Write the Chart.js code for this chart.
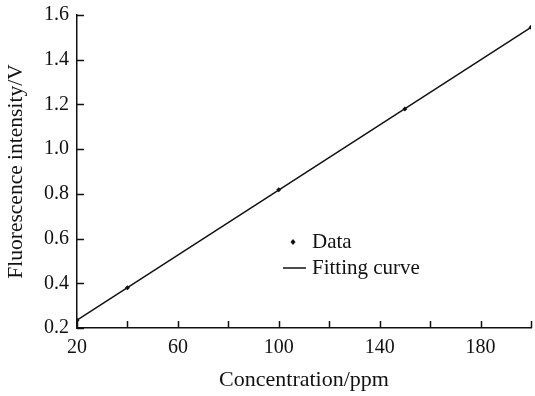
<!DOCTYPE html>
<html>
<head>
<meta charset="utf-8">
<script src="https://cdn.jsdelivr.net/npm/chart.js@4"></script>
<style>
  html, body { margin: 0; padding: 0; background: #fff; }
  #wrap { width: 535px; height: 396px; }
</style>
</head>
<body>
<div id="wrap"><canvas id="myChart" width="535" height="396"></canvas></div>
<script>
const concentration = [20, 40, 100, 150, 200];
const intensity = [0.235, 0.38, 0.818, 1.18, 1.545];
const fitX = [20, 200];
const fitY = [0.235, 1.545];
const xLabelled = [20, 60, 100, 140, 180];

const serif = "'Liberation Serif', 'Times New Roman', serif";

// ticks pointing into the plot, like the original figure
const inwardTicks = {
  id: "inwardTicks",
  afterDraw(chart) {
    const c = chart.ctx;
    const a = chart.chartArea;
    const xs = chart.scales.x;
    const ys = chart.scales.y;
    c.save();
    c.strokeStyle = "#111";
    c.lineWidth = 1.5;
    c.beginPath();
    xs.ticks.forEach(t => {
      const px = Math.round(xs.getPixelForValue(t.value)) + 0.5;
      c.moveTo(px, a.bottom);
      c.lineTo(px, a.bottom - 7);
    });
    ys.ticks.forEach(t => {
      const py = Math.round(ys.getPixelForValue(t.value)) + 0.5;
      c.moveTo(a.left, py);
      c.lineTo(a.left + 7, py);
    });
    c.stroke();
    c.restore();
  }
};

const innerLegend = {
  id: "innerLegend",
  afterDraw(chart) {
    const c = chart.ctx;
    c.save();
    c.fillStyle = "#111";
    c.strokeStyle = "#111";
    c.font = "21px " + serif;
    c.textBaseline = "middle";
    // Data
    c.beginPath();
    c.moveTo(293, 239); c.lineTo(295.5, 242); c.lineTo(293, 245); c.lineTo(290.5, 242);
    c.closePath();
    c.fill();
    c.fillText("Data", 312, 242);
    // Fitting curve
    c.lineWidth = 1.5;
    c.beginPath();
    c.moveTo(283, 268); c.lineTo(306, 268);
    c.stroke();
    c.fillText("Fitting curve", 312, 268);
    c.restore();
  }
};

const ctx = document.getElementById("myChart").getContext("2d");
const myChart = new Chart(ctx, {
  type: "scatter",
  data: {
    datasets: [
      {
        label: "Fitting curve",
        data: fitX.map((x, i) => ({ x: x, y: fitY[i] })),
        showLine: true,
        borderColor: "#111",
        borderWidth: 1.5,
        pointRadius: 0,
        order: 2,
      },
      {
        label: "Data",
        data: concentration.map((x, i) => ({ x: x, y: intensity[i] })),
        pointStyle: "rectRot",
        pointRadius: 2.5,
        backgroundColor: "#111",
        borderColor: "#111",
        borderWidth: 0,
        order: 1,
      },
    ],
  },
  options: {
    responsive: false,
    animation: false,
    layout: { padding: { top: 15, right: 3, left: 0, bottom: 0 } },
    plugins: {
      legend: { display: false },
      tooltip: { enabled: false },
    },
    scales: {
      x: {
        type: "linear",
        min: 20,
        max: 200,
        afterFit(scale) {
          scale.height = 68;
          scale.paddingLeft = 0;
          scale.paddingRight = 0;
        },
        border: { display: true, color: "#111", width: 1.5 },
        grid: { display: true, drawOnChartArea: false, drawTicks: false },
        ticks: {
          stepSize: 20,
          padding: 8,
          color: "#111",
          font: { family: serif, size: 20 },
          maxRotation: 0,
          autoSkip: false,
          callback: v => (xLabelled.includes(v) ? String(v) : ""),
        },
        title: {
          display: true,
          text: "Concentration/ppm",
          color: "#111",
          font: { family: serif, size: 22 },
          padding: { top: 4, bottom: 3 },
        },
      },
      y: {
        min: 0.2,
        max: 1.6,
        afterFit(scale) {
          scale.width = 77;
          scale.paddingTop = 0;
          scale.paddingBottom = 0;
        },
        border: { display: true, color: "#111", width: 1.5 },
        grid: { display: true, drawOnChartArea: false, drawTicks: false },
        ticks: {
          stepSize: 0.2,
          padding: 8,
          color: "#111",
          font: { family: serif, size: 20 },
          callback: v => v.toFixed(1),
        },
        title: {
          display: true,
          text: "Fluorescence intensity/V",
          color: "#111",
          font: { family: serif, size: 21.5 },
          padding: { top: 3, bottom: 0 },
        },
      },
    },
  },
  plugins: [inwardTicks, innerLegend],
});
</script>
</body>
</html>
